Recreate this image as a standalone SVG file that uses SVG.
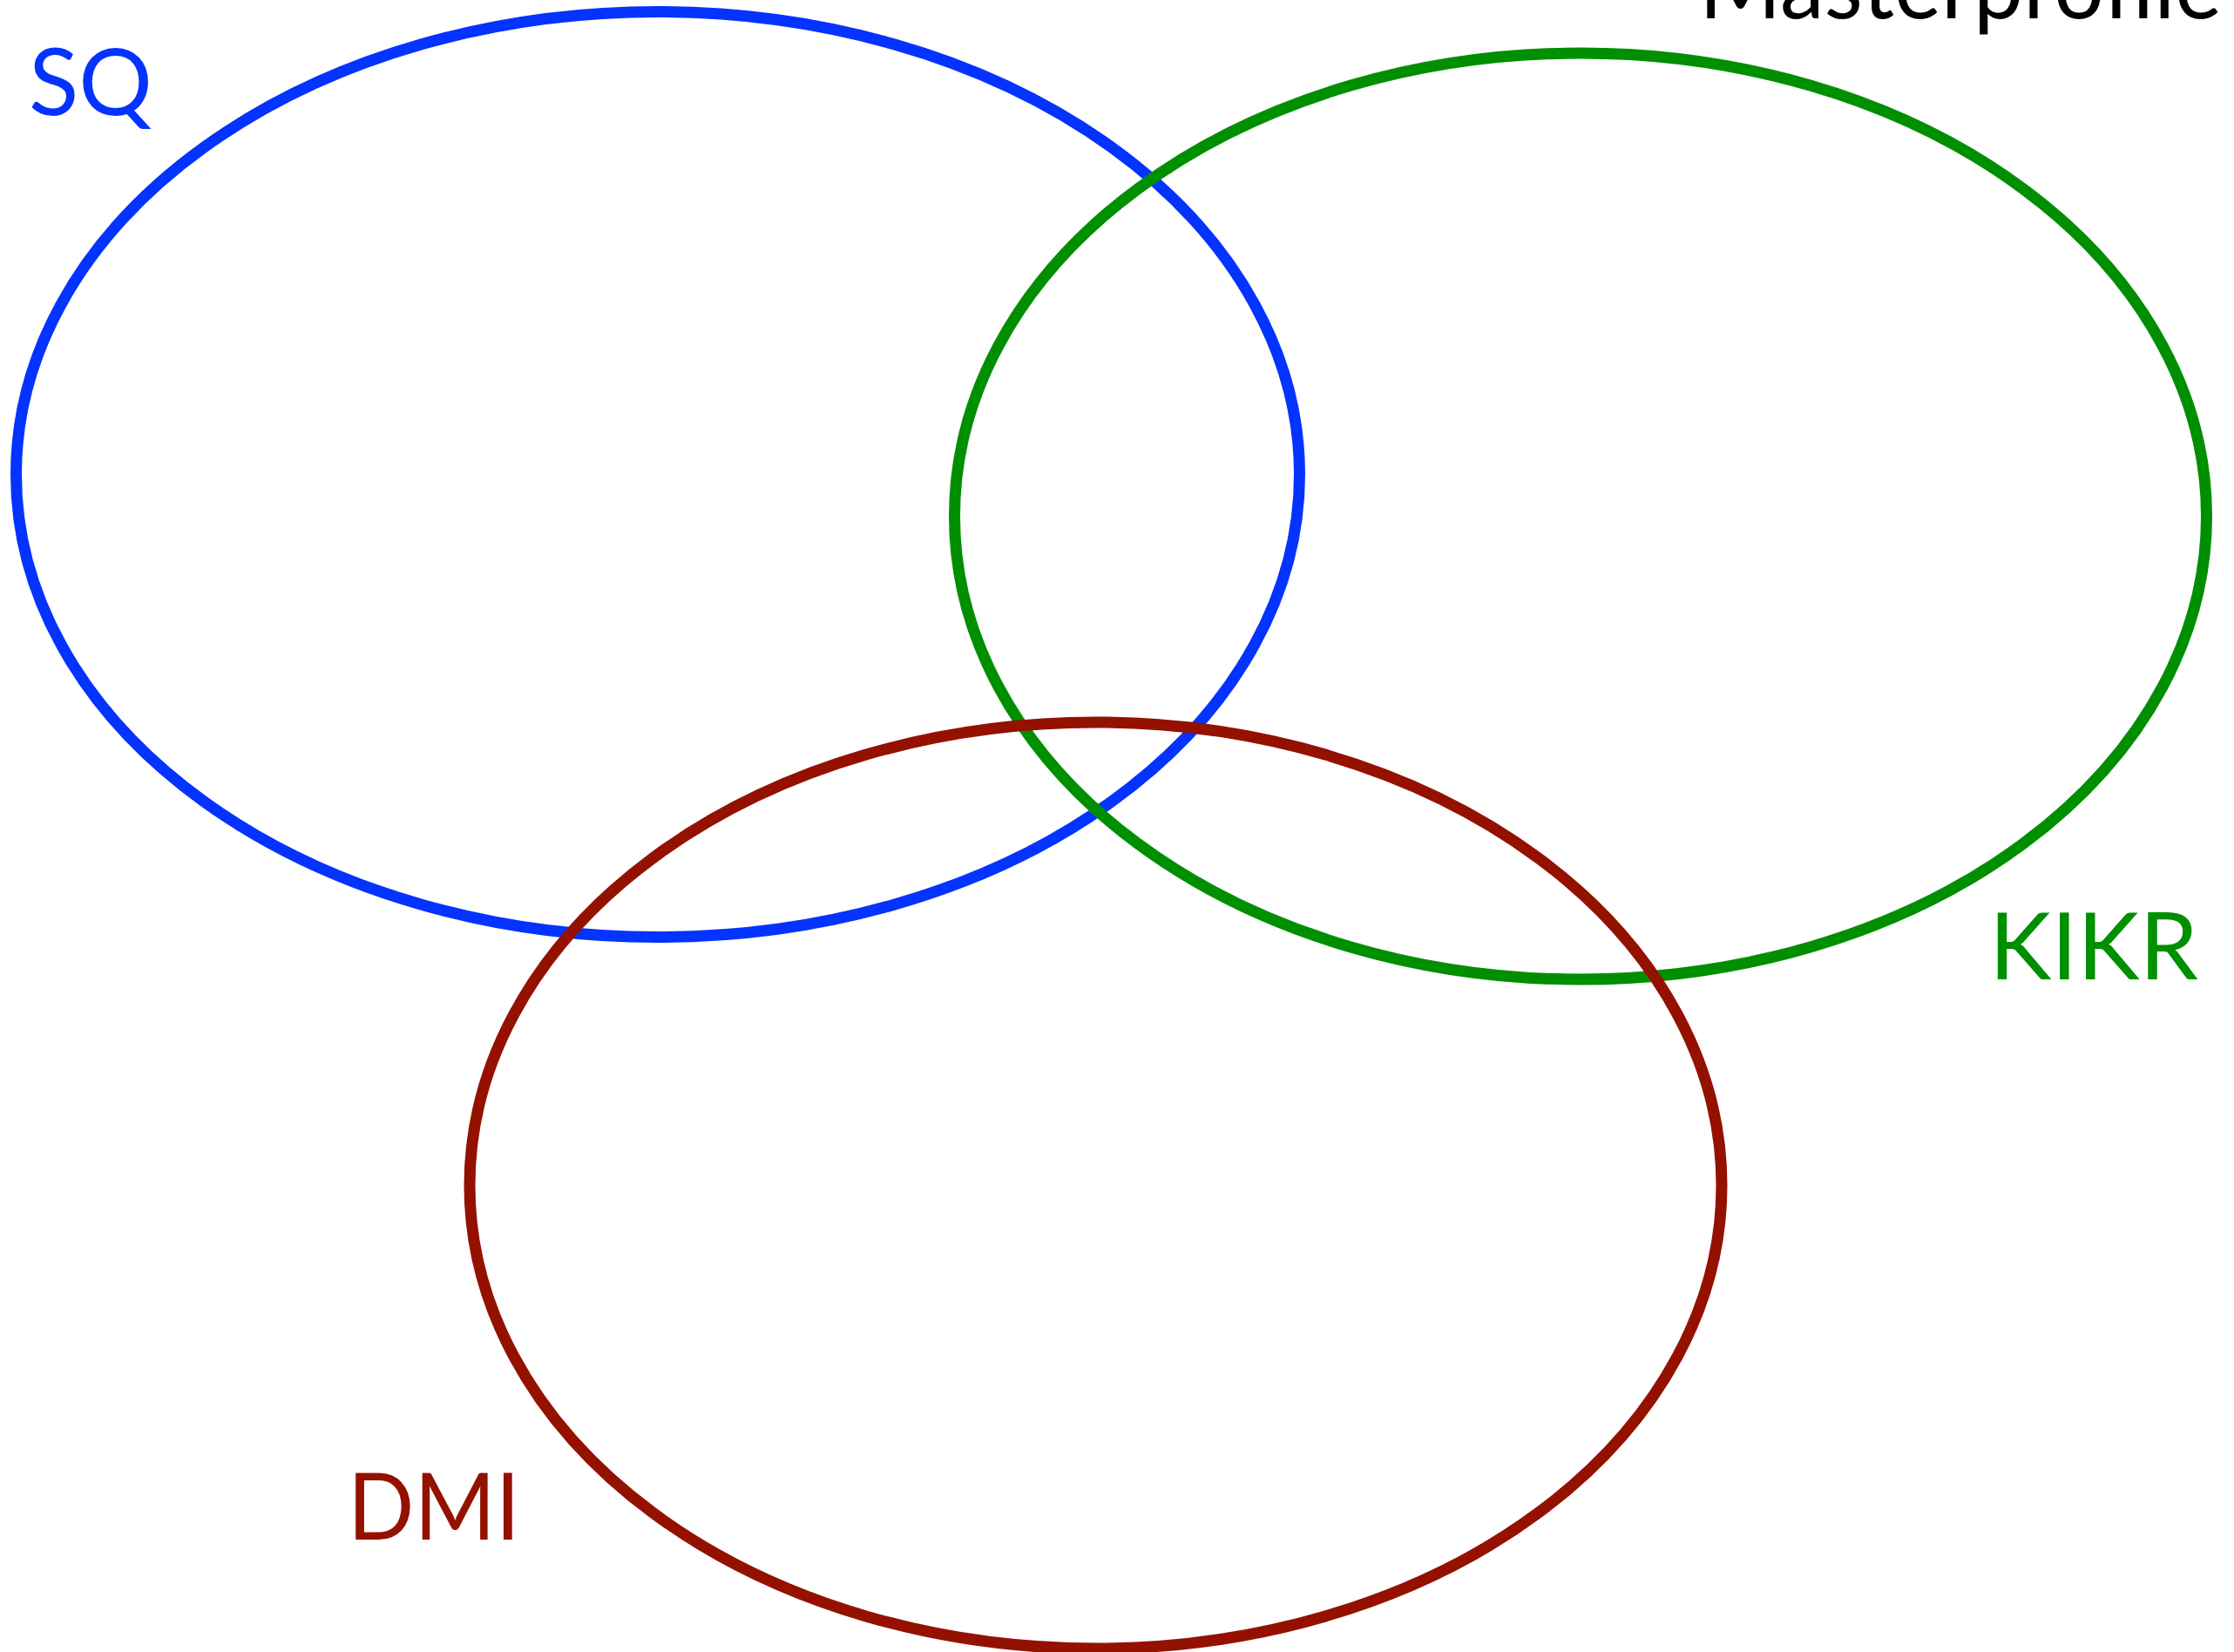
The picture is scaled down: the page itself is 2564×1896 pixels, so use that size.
<svg xmlns="http://www.w3.org/2000/svg" width="2564" height="1896" viewBox="0 0 2564 1896">
<style>
.set{fill:none;stroke-width:13}
.lbl{font-family:Lato,"Open Sans","Liberation Sans",sans-serif;font-size:106px}
</style>
<rect width="2564" height="1896" fill="#ffffff"/>
<g id="title">
<text class="lbl" x="1950" y="21" textLength="600" lengthAdjust="spacingAndGlyphs" fill="#000000">Masterprofile</text>
</g>
<g id="set-sq">
<ellipse class="set" cx="755" cy="544.5" rx="736.5" ry="531" stroke="#0433FF"/>
<text class="lbl" x="33" y="132" textLength="142" lengthAdjust="spacingAndGlyphs" fill="#0433FF">SQ</text>
</g>
<g id="set-kikr">
<ellipse class="set" cx="1814" cy="592.5" rx="718.5" ry="531.5" stroke="#008F00"/>
<text class="lbl" x="2283" y="1124" textLength="240" lengthAdjust="spacingAndGlyphs" fill="#008F00">KIKR</text>
</g>
<g id="set-dmi">
<ellipse class="set" cx="1257.5" cy="1360.5" rx="718.5" ry="531.5" stroke="#941100"/>
<text class="lbl" x="399" y="1767" textLength="198" lengthAdjust="spacingAndGlyphs" fill="#941100">DMI</text>
</g>
<g id="connectors"/>
</svg>
